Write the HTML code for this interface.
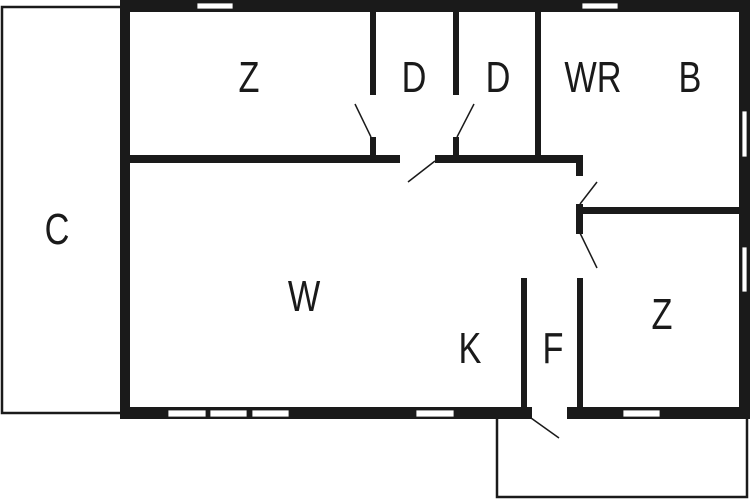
<!DOCTYPE html>
<html><head><meta charset="utf-8"><style>
html,body{margin:0;padding:0;background:#fff;width:750px;height:500px;overflow:hidden}
svg{display:block}
text{font-family:"Liberation Sans",sans-serif;font-size:44px;fill:#1a1a1a;text-anchor:middle}
</style></head><body>
<svg width="750" height="500" viewBox="0 0 750 500">
<g fill="none" stroke="#1a1a1a" stroke-width="2.5">
<polyline points="120,7 2,7 2,413 120,413"/>
<polyline points="497,419 497,497 747,497 747,419"/>
</g>
<g fill="#1a1a1a">
<!-- outer walls -->
<rect x="120" y="0" width="630" height="12"/>
<rect x="120" y="0" width="10" height="419"/>
<rect x="739" y="0" width="11" height="419"/>
<rect x="120" y="407" width="412" height="12"/>
<rect x="567" y="407" width="183" height="12"/>
<!-- interior -->
<rect x="130" y="155" width="270" height="8"/>
<rect x="435" y="155" width="148" height="8"/>
<rect x="370" y="12" width="6" height="83"/>
<rect x="370" y="137" width="6" height="20"/>
<rect x="453" y="12" width="6" height="83"/>
<rect x="453" y="137" width="6" height="20"/>
<rect x="535" y="12" width="6" height="145"/>
<rect x="576" y="155" width="7" height="21"/>
<rect x="576" y="204" width="7" height="30"/>
<rect x="577" y="278" width="6" height="130"/>
<rect x="583" y="207" width="158" height="7"/>
<rect x="521" y="278" width="6" height="130"/>
</g>
<g fill="#fff" stroke="#1a1a1a" stroke-width="0.8">
<rect x="197" y="3" width="36" height="6"/>
<rect x="582" y="3" width="36" height="6"/>
<rect x="742" y="111" width="5" height="46"/>
<rect x="742" y="247" width="5" height="45"/>
<rect x="168" y="410" width="38" height="7"/>
<rect x="210" y="410" width="37" height="7"/>
<rect x="252" y="410" width="37" height="7"/>
<rect x="416" y="410" width="38" height="7"/>
<rect x="623" y="410" width="37" height="7"/>
</g>
<g stroke="#1a1a1a" stroke-width="1.5">
<line x1="355" y1="104" x2="371" y2="137"/>
<line x1="474" y1="104" x2="457" y2="137"/>
<line x1="408" y1="182" x2="435" y2="161"/>
<line x1="597" y1="182" x2="580" y2="204"/>
<line x1="580" y1="233" x2="597" y2="268"/>
<line x1="531" y1="418" x2="559" y2="438"/>
</g>
<g>
<text transform="translate(249,92) scale(0.78,1)">Z</text>
<text transform="translate(414,92) scale(0.78,1)">D</text>
<text transform="translate(498,92) scale(0.78,1)">D</text>
<text transform="translate(593,92) scale(0.78,1)">WR</text>
<text transform="translate(690,92) scale(0.78,1)">B</text>
<text transform="translate(57,244) scale(0.78,1)">C</text>
<text transform="translate(304,311) scale(0.78,1)">W</text>
<text transform="translate(470,363) scale(0.78,1)">K</text>
<text transform="translate(553,363) scale(0.78,1)">F</text>
<text transform="translate(662,329) scale(0.78,1)">Z</text>
</g>
</svg>
</body></html>
